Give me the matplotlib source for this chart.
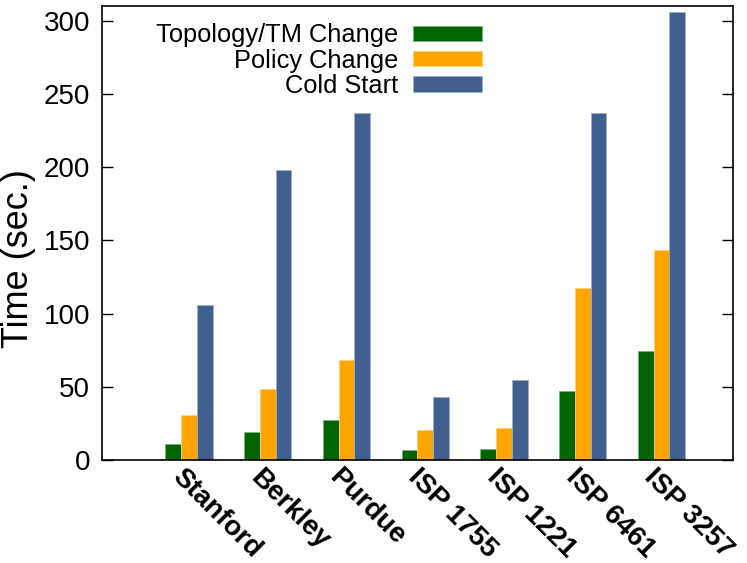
# plot.py

import numpy as np
import matplotlib.pyplot as plt
from matplotlib.transforms import ScaledTranslation

# Data
networks = ["Stanford", "Berkley", "Purdue", "ISP 1755", "ISP 1221", "ISP 6461", "ISP 3257"]
topology_change = [10.7, 18.9, 27.0, 6.5, 7.7, 47.3, 74.3]
policy_change = [30.5, 48.6, 68.2, 20.5, 22.0, 117.5, 143.2]
cold_start = [105.5, 198.2, 237.0, 42.7, 54.5, 237.0, 305.7]

series_labels = ["Topology/TM Change", "Policy Change", "Cold Start"]
series_colors = ["#006400", "#ffa500", "#41608f"]
edge_colors = ["#7fb07f", "#ffd27f", "#a0afc7"]


def main():
    plt.rcParams["font.family"] = ["Liberation Sans", "DejaVu Sans"]

    fig = plt.figure(figsize=(7.47, 5.63), dpi=100)
    ax = fig.add_axes([102.3 / 747, 1 - 460 / 563, 630.2 / 747, 454 / 563])

    x = np.arange(len(networks))
    width = 0.2
    series = [topology_change, policy_change, cold_start]

    # Grouped bars, one per series
    for i, values in enumerate(series):
        ax.bar(
            x + (i - 1) * width,
            values,
            width,
            color=series_colors[i],
            edgecolor=edge_colors[i],
            linewidth=0.5,
            label=series_labels[i],
        )

    # Axes formatting
    ax.set_xlim(-1.1, 6.9)
    ax.set_ylim(0, 310)
    ax.set_yticks(np.arange(0, 301, 50))
    ax.set_xticks(x)
    ax.set_xticklabels(
        networks,
        rotation=-45,
        ha="left",
        va="top",
        rotation_mode="anchor",
        fontsize=20,
        fontweight="bold",
    )
    ax.tick_params(axis="x", length=0, pad=3)
    # nudge the rotated labels a little to the left
    shift = ScaledTranslation(-4 / 100, 0, fig.dpi_scale_trans)
    for label in ax.get_xticklabels():
        label.set_transform(label.get_transform() + shift)

    ax.tick_params(
        axis="y", direction="in", length=8, width=1, right=True, labelsize=20, pad=8.6
    )
    for spine in ax.spines.values():
        spine.set_linewidth(1.2)

    ax.set_ylabel("Time (sec.)", fontsize=26)
    ax.yaxis.set_label_coords(-0.105, 0.443)

    ax.legend(
        loc="upper right",
        bbox_to_anchor=((482 - 102.3) / 630.2, 0.962),
        frameon=False,
        markerfirst=False,
        fontsize=18.3,
        handlelength=2.7,
        handleheight=0.56,
        handletextpad=0.6,
        labelspacing=0.05,
        borderpad=0,
        borderaxespad=0,
    )

    plt.savefig("out.png", dpi=100)


main()
